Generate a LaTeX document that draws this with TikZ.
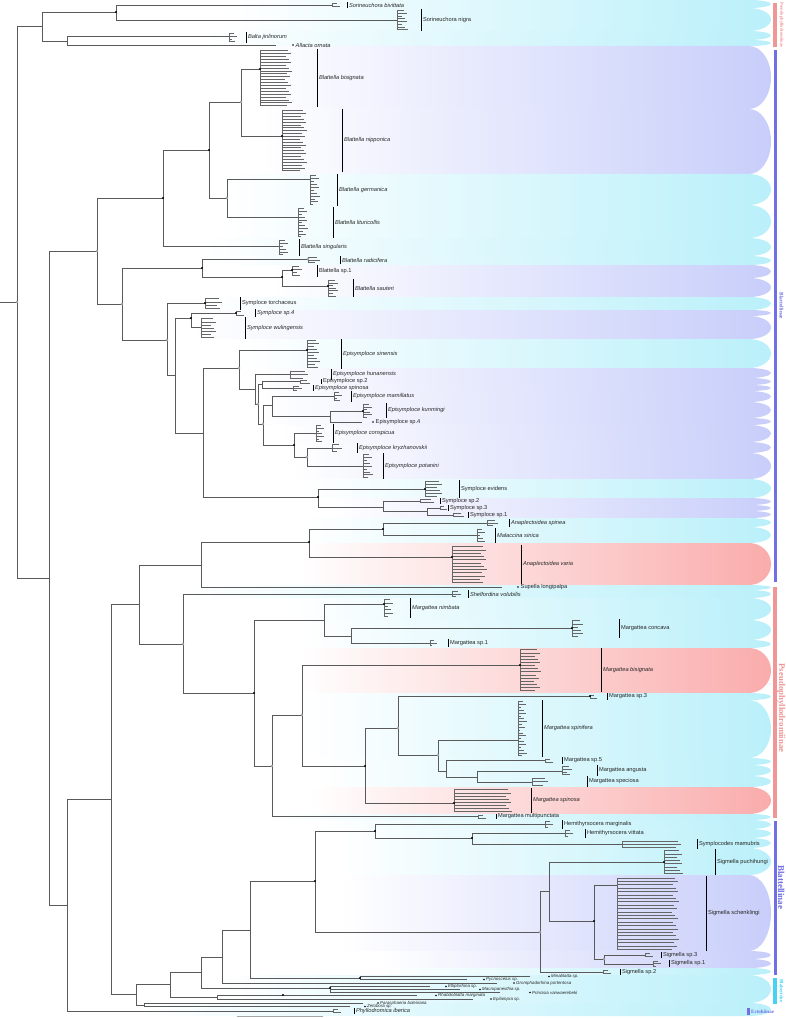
\documentclass[tikz,border=0pt]{standalone}
\usepackage{fontspec}
\setmainfont{Liberation Sans}
\newfontfamily\legfont{Liberation Serif}
\definecolor{bcyan}{RGB}{186,240,250}
\definecolor{blav}{RGB}{200,206,250}
\definecolor{bpink}{RGB}{250,172,172}
\definecolor{lpink}{RGB}{240,150,150}
\definecolor{lblue}{RGB}{112,112,228}
\definecolor{lcyan}{RGB}{70,210,240}
\definecolor{brc}{RGB}{90,90,90}
\tikzset{
  br/.style={draw=brc,line width=0.55pt},
  tipbr/.style={draw=black!60,line width=0.35pt},
  bar/.style={draw=black,line width=0.8pt},
  splab/.style={anchor=west,inner sep=0pt,font=\fontsize{5.7}{6}\selectfont,text=black!85},
  oglab/.style={anchor=west,inner sep=0pt,font=\fontsize{4.4}{5}\selectfont,text=black!85},
  bdot/.style={fill=black},
  odot/.style={fill=white,draw=gray,line width=0.4pt},
  leg/.style={inner sep=0pt,font=\legfont\bfseries\fontsize{4.5}{5}\selectfont},
}
\newcommand\band[4]{%
  \pgfmathsetmacro\bm{(#2+#3)/2}\pgfmathsetmacro\bk{0.5523*(#3-#2)/2}%
  \path[left color=white,right color=#4] (#1,#2) -- (749,#2) .. controls (761.2,#2) and (771,\bm-\bk) .. (771,\bm) .. controls (771,\bm+\bk) and (761.2,#3) .. (749,#3) -- (#1,#3) -- cycle;}
% clade: id, node x, node y, y1, y2, ntips, tip x, bar x, label
\newcommand\clade[9]{%
  \coordinate (#1) at (#2,#3);
  \foreach \k in {1,...,#6}{
    \pgfmathsetmacro\ty{#4+(#5-#4)*(\k-0.5)/#6}
    \pgfmathsetmacro\tx{#7+mod(\k*37,11)*0.7}
    \draw[tipbr] (#1) |- (\tx,\ty);
  }
  \draw[bar] (#8,#4) -- (#8,#5);
  \node[splab] (#1-lab) at ({#8+1.8},{(#4+#5)/2}) {#9};
}
% single tip: id, end x, y, dot x, label
\newcommand\single[5]{%
  \coordinate (#1) at (#2,#3);
  \fill[black] (#4,#3) circle (0.9);
  \node[splab] (#1-lab) at ({#4+2.5},#3) {#5};
}
\newcommand\ogr[5]{%
  \coordinate (#1) at (#2,#3);
  \fill[black] (#4,#3) circle (0.8);
  \node[oglab] (#1-lab) at ({#4+2},#3) {#5};
}
\begin{document}
\begin{tikzpicture}[x=1pt,y=-1pt]
\useasboundingbox (0,0) rectangle (785,1019);
% ---------------- bands
\band{230}{0}{8}{bcyan}
\band{230}{8}{31}{bcyan}
\band{200}{31}{40}{bcyan}
\band{200}{40}{46}{bcyan}
\band{250}{46}{109}{blav}
\band{260}{109}{174}{blav}
\band{225}{174}{205}{bcyan}
\band{225}{205}{238}{bcyan}
\band{200}{238}{256}{bcyan}
\band{210}{256}{265}{bcyan}
\band{270}{265}{278}{blav}
\band{270}{278}{297}{blav}
\band{200}{297}{310}{bcyan}
\band{190}{310}{316}{blav}
\band{190}{316}{339}{blav}
\band{240}{339}{368}{bcyan}
\band{250}{368}{378}{blav}
\band{250}{378}{385}{blav}
\band{250}{385}{391}{blav}
\band{260}{391}{402}{blav}
\band{260}{402}{418}{blav}
\band{260}{418}{425}{blav}
\band{280}{425}{442}{blav}
\band{290}{442}{453}{blav}
\band{290}{453}{479}{blav}
\band{300}{479}{498}{bcyan}
\band{330}{498}{505}{blav}
\band{330}{505}{511}{blav}
\band{330}{511}{518}{blav}
\band{300}{518}{527}{bcyan}
\band{300}{527}{543}{bcyan}
\band{300}{543}{585}{bpink}
\band{200}{585}{590}{bcyan}
\band{183}{590}{598}{bcyan}
\band{290}{598}{620}{bcyan}
\band{300}{620}{640}{bcyan}
\band{300}{640}{648}{bcyan}
\band{300}{648}{693}{bpink}
\band{310}{693}{700}{bcyan}
\band{310}{700}{758}{bcyan}
\band{320}{758}{765}{bcyan}
\band{320}{765}{776}{bcyan}
\band{320}{776}{787}{bcyan}
\band{310}{787}{814}{bpink}
\band{272}{814}{820}{bcyan}
\band{320}{820}{829}{bcyan}
\band{340}{829}{838}{bcyan}
\band{340}{838}{848}{bcyan}
\band{340}{848}{875}{bcyan}
\band{340}{875}{951}{blav}
\band{380}{951}{959}{blav}
\band{380}{959}{968}{blav}
\band{380}{968}{975}{bcyan}
\band{215}{975}{1003}{bcyan}
\band{136}{1003}{1016}{bcyan}
% ---------------- legend
\fill[lpink] (773,3) rectangle (777,47);
\fill[lblue] (774,50) rectangle (777,582);
\fill[lpink] (773,587) rectangle (777,818);
\fill[lblue] (774,821) rectangle (777,975);
\fill[lcyan] (773,978) rectangle (777,1004);
\fill[lblue] (747,1008) rectangle (749.5,1015);
\node[leg,text=lpink,rotate=-90] (L1) at (781.5,25) {Pseudophyllodromiinae};
\node[leg,text=lblue,rotate=-90,font=\legfont\bfseries\fontsize{5.4}{6}\selectfont] (L2) at (781.5,306) {Blattellinae};
\node[leg,text=lpink,rotate=-90,font=\legfont\bfseries\fontsize{8.8}{9}\selectfont] (L3) at (781.2,708) {Pseudophyllodromiinae};
\node[leg,text=lblue,rotate=-90,font=\legfont\bfseries\fontsize{9}{9}\selectfont] (L4) at (781.2,887) {Blattellinae};
\node[leg,text=lcyan,rotate=-90,font=\legfont\bfseries\fontsize{5}{5}\selectfont] (L5) at (781.5,991) {Blaberidae};
\node[leg,text=lblue,anchor=west,font=\legfont\bfseries\fontsize{5}{5}\selectfont] (L6) at (751,1011.5) {Ectobiinae};
% ---------------- backbone coordinates
\coordinate (R0) at (0,302);
\coordinate (Root) at (17,302);
\coordinate (Ntop) at (42,26);
\coordinate (Nsor) at (116,12);
\coordinate (Nbal) at (67,41);
\coordinate (Nlow) at (49,578);
\coordinate (Nbl) at (97,251);
\coordinate (Nb1) at (163,198);
\coordinate (Nb3) at (209,150);
\coordinate (Nb4) at (241,102);
\coordinate (Nb5) at (227,198);
\coordinate (Nb2) at (122,304);
\coordinate (Nb6) at (202,268);
\coordinate (Nb7) at (282,277);
\coordinate (Ns1) at (167,340);
\coordinate (Ns2) at (175,375);
\coordinate (Ns3) at (191,318);
\coordinate (Ns4) at (203,433);
\coordinate (NE) at (239,368);
\coordinate (NE1) at (255,389);
\coordinate (NE2) at (258,404);
\coordinate (NE3) at (262,384);
\coordinate (NE4) at (263,424);
\coordinate (NE5) at (272,405);
\coordinate (NE7) at (330,416);
\coordinate (NE6) at (294,445);
\coordinate (NE8) at (307,457);
\coordinate (Ns5) at (318,497);
\coordinate (Ns6) at (383,507);
\coordinate (Ns7) at (427,511);
\coordinate (Nrest) at (67,905);
\coordinate (Nr1) at (111,799);
\coordinate (Nr2) at (139,604);
\coordinate (Nr4) at (201,565);
\coordinate (Nr6) at (309,542);
\coordinate (Nr7) at (383,529);
\coordinate (Nr5) at (183,644);
\coordinate (Nr8) at (254,693);
\coordinate (Nr9) at (324,620);
\coordinate (Nr11) at (351,636);
\coordinate (Nr10) at (272,766);
\coordinate (Nr12) at (302,715);
\coordinate (Nr13) at (365,766);
\coordinate (Nr14) at (398,728);
\coordinate (Nr15) at (438,755);
\coordinate (Nr16) at (446,771);
\coordinate (Nr17) at (477,777);
\coordinate (Nr3) at (136,994);
\coordinate (Nr18) at (170,984);
\coordinate (Nr19) at (201,972);
\coordinate (Nr20) at (222,957);
\coordinate (Nr22) at (250,930);
\coordinate (Nh) at (315,881);
\coordinate (Nh1) at (375,831);
\coordinate (Nh2) at (472,838);
\coordinate (Nsig) at (540,932);
\coordinate (Nsig1) at (549,891);
\coordinate (Nsig2) at (594,921);
\coordinate (Nsig3) at (604,959);
\coordinate (Nmin) at (360,978);
\coordinate (Nd) at (330,988);
\coordinate (Nr21) at (217,997);
\coordinate (Nrh) at (283,995);
\coordinate (Nz) at (144,1005);
% ---------------- species clades
\clade{sbiv}{332}{5}{2}{8}{2}{334}{347}{\itshape Sorineuchora bivittata}
\clade{snig}{397}{20}{9}{31}{8}{401}{421}{Sorineuchora nigra}
\clade{bjin}{229}{36}{32}{43}{4}{231}{246}{\itshape Balta jinlinorum}
\single{allo}{276}{45}{293}{\itshape Allacta ornata}
\clade{bbis}{260}{69}{49}{107}{20}{285}{317}{\itshape Blattella bisignata}
\clade{bnip}{282}{136}{109}{172}{22}{300}{342}{\itshape Blattella nipponica}
\clade{bger}{310}{179}{174}{206}{11}{313}{337}{\itshape Blattella germanica}
\clade{blit}{298}{217}{207}{238}{11}{301}{333}{\itshape Blattella lituricollis}
\clade{bsin}{279}{246}{239}{256}{6}{282}{299}{\itshape Blattella singularis}
\clade{brad}{308}{259}{256}{264}{3}{314}{340}{\itshape Blattella radicifera}
\clade{bsp1}{292}{270}{265}{277}{4}{296}{317}{Blattella sp.1}
\clade{bsau}{328}{286}{279}{297}{7}{332}{353}{\itshape Blattella sauteri}
\clade{stor}{205}{303}{297}{310}{4}{216}{240}{Symploce torchaceus}
\clade{ssp4}{236}{313}{309}{317}{2}{238}{255}{\itshape Symploce sp.4}
\clade{swul}{201}{327}{317}{339}{7}{210}{245}{\itshape Symploce wulingensis}
\clade{esin}{307}{350}{339}{369}{10}{313}{341}{\itshape Episymploce sinensis}
\clade{ehun}{290}{374}{369}{380}{3}{302}{331}{\itshape Episymploce hunanensis}
\clade{esp2}{300}{381}{379}{384}{2}{304}{321}{Episymploce sp.2}
\clade{espi}{293}{388}{385}{391}{3}{296}{313}{\itshape Episymploce spinosa}
\clade{emam}{334}{396}{391}{402}{4}{336}{351}{\itshape Episymploce mamillatus}
\clade{ekun}{363}{411}{403}{418}{6}{366}{386}{\itshape Episymploce kunmingi}
\single{esp4}{362}{422}{373}{Episymploce sp.4}
\clade{econ}{316}{433}{424}{443}{7}{318}{333}{\itshape Episymploce conspicua}
\clade{ekry}{332}{448}{443}{453}{3}{336}{357}{\itshape Episymploce kryzhanovskii}
\clade{epot}{363}{466}{453}{479}{9}{366}{383}{\itshape Episymploce potanini}
\clade{sevi}{425}{489}{480}{498}{6}{436}{459}{Symploce evidens}
\clade{ssp2}{420}{501}{498}{504}{2}{428}{440}{Symploce sp.2}
\clade{ssp3}{440}{508}{505}{511}{2}{441}{448}{Symploce sp.3}
\clade{ssp1}{453}{515}{512}{518}{2}{458}{468}{Symploce sp.1}
\clade{aspi}{487}{523}{519}{527}{3}{492}{509}{\itshape Anaplectoidea spinea}
\clade{msin}{477}{535}{528}{543}{5}{479}{495}{\itshape Malaccina sinica}
\clade{avar}{452}{557}{545}{584}{12}{480}{521}{\itshape Anaplectoidea varia}
\single{supl}{502}{587}{518}{Supella longipalpa}
\clade{shel}{452}{594}{590}{598}{3}{455}{468}{\itshape Shelfordina volubilis}
\clade{mnim}{384}{604}{598}{618}{6}{387}{410}{\itshape Margattea nimbata}
\clade{mcon}{572}{628}{619}{638}{6}{577}{619}{Margattea concava}
\clade{msp1}{430}{643}{639}{647}{3}{431}{448}{Margattea sp.1}
\clade{mbis}{520}{665}{648}{692}{14}{534}{601}{\itshape Margattea bisignata}
\clade{msp3}{590}{696}{693}{700}{2}{591}{607}{Margattea sp.3}
\clade{mspf}{518}{740}{700}{757}{20}{520}{542}{\itshape Margattea spinifera}
\clade{msp5}{545}{760}{757}{764}{2}{547}{562}{Margattea sp.5}
\clade{mang}{562}{771}{765}{776}{4}{566}{597}{Margattea angusta}
\clade{mspe}{532}{782}{776}{787}{3}{542}{587}{Margattea speciosa}
\clade{mspn}{454}{803}{788}{813}{8}{505}{531}{\itshape Margattea spinosa}
\clade{mmul}{478}{816}{814}{819}{2}{480}{496}{Margattea multipunctata}
\clade{hmar}{545}{824}{820}{829}{3}{547}{562}{Hemithyrsocera marginalis}
\clade{hvit}{565}{833}{829}{838}{3}{567}{585}{Hemithyrsocera vittata}
\clade{smam}{622}{844}{839}{849}{3}{675}{697}{Symplocodes mamubris}
\clade{spuc}{664}{862}{849}{875}{8}{676}{715}{Sigmella puchihungi}
\clade{ssch}{617}{885}{876}{951}{22}{672}{706}{Sigmella schenklingi}
\clade{sis3}{645}{955}{952}{958}{2}{647}{661}{Sigmella sp.3}
\clade{sis1}{653}{964}{960}{967}{3}{655}{669}{Sigmella sp.1}
\clade{sis2}{603}{972}{969}{975}{2}{605}{620}{Sigmella sp.2}
% outgroups
\ogr{omin}{530}{976.5}{549}{\itshape Minablatta sp.}
\ogr{opyc}{467}{979.5}{484}{\itshape Pycnoscelus sp.}
\ogr{ogro}{497}{983}{514}{\itshape Gromphadorhina portentosa}
\ogr{oop1}{430}{986.5}{446}{\itshape Elliptorhina sp.}
\ogr{oop2}{460}{989.5}{480}{\itshape Macropanesthia sp.}
\ogr{oop3}{500}{992.5}{530}{\itshape Princisia vanwaerebeki}
\ogr{orha}{417}{995.5}{436}{\itshape Rhabdoblatta marginata}
\ogr{oepi}{473}{999}{491}{\itshape Epilampra sp.}
\ogr{opar}{363}{1003}{378}{\itshape Parasphaeria boleiriana}
\ogr{ozet}{350}{1006.5}{365}{\itshape Zetobora sp.}
\clade{ophy}{333}{1011}{1008}{1014}{2}{335}{354}{\itshape Phyllodromica iberica}
% ---------------- backbone edges
\draw[br] (R0) -- (Root);
\foreach \p/\c in {Root/Ntop,Root/Nlow,Ntop/Nsor,Ntop/Nbal,Nsor/sbiv,Nsor/snig,Nbal/bjin,Nbal/allo,
  Nlow/Nbl,Nlow/Nrest,Nbl/Nb1,Nbl/Nb2,Nb1/Nb3,Nb1/bsin,Nb3/Nb4,Nb3/Nb5,Nb4/bbis,Nb4/bnip,Nb5/bger,Nb5/blit,
  Nb2/Nb6,Nb2/Ns1,Nb6/brad,Nb6/Nb7,Nb7/bsp1,Nb7/bsau,Ns1/stor,Ns1/Ns2,Ns2/Ns3,Ns2/Ns4,Ns3/ssp4,Ns3/swul,
  Ns4/NE,Ns4/Ns5,NE/esin,NE/NE1,NE1/ehun,NE1/NE2,NE2/NE3,NE2/NE4,NE3/esp2,NE3/espi,NE4/NE5,NE4/NE6,
  NE5/emam,NE5/NE7,NE7/ekun,NE7/esp4,NE6/econ,NE6/NE8,NE8/ekry,NE8/epot,
  Ns5/sevi,Ns5/Ns6,Ns6/ssp2,Ns6/Ns7,Ns7/ssp3,Ns7/ssp1,
  Nrest/Nr1,Nrest/ophy,Nr1/Nr2,Nr1/Nr3,Nr2/Nr4,Nr2/Nr5,Nr4/Nr6,Nr4/supl,Nr6/Nr7,Nr6/avar,Nr7/aspi,Nr7/msin,
  Nr5/shel,Nr5/Nr8,Nr8/Nr9,Nr8/Nr10,Nr9/mnim,Nr9/Nr11,Nr11/mcon,Nr11/msp1,Nr10/Nr12,Nr10/mmul,
  Nr12/mbis,Nr12/Nr13,Nr13/Nr14,Nr13/mspn,Nr14/msp3,Nr14/Nr15,Nr15/mspf,Nr15/Nr16,Nr16/msp5,Nr16/Nr17,
  Nr17/mang,Nr17/mspe,
  Nr3/Nr18,Nr3/Nz,Nr18/Nr19,Nr18/Nr21,Nr19/Nr20,Nr19/Nd,Nr20/Nr22,Nr20/ogro,Nr22/Nh,Nr22/Nmin,
  Nh/Nh1,Nh/Nsig,Nh1/hmar,Nh1/Nh2,Nh2/hvit,Nh2/smam,Nsig/Nsig1,Nsig/sis2,Nsig1/spuc,Nsig1/Nsig2,
  Nsig2/ssch,Nsig2/Nsig3,Nsig3/sis3,Nsig3/sis1,Nmin/omin,Nmin/opyc,Nd/oop1,Nd/oop2,Nd/oop3,
  Nr21/Nrh,Nr21/oepi,Nrh/orha,Nz/opar,Nz/ozet}
  {\draw[br] (\p) |- (\c);}
% ---------------- node markers
\foreach \n in {Nsor,Nb1,Nb3,Nb6,Nb7,Ns3,stor,esin,NE6,Ns5,sevi,Nr6,avar,Nr8,Nr13,mbis,mspn,Nh,Nh1,Nh2,spuc,Nsig2,Nmin,Nd,Nrh,bbis,bnip,ekun,mcon,msp3,ssp4,bsp1,bsau,Nr7,mnim}
  {\fill[bdot] (\n) circle (1.1);}
\foreach \n in {Root,Nbl,Nb4,Nb5,Nb2,Ns1,NE,NE2,NE4,NE8,Nr5,Nr10,Nr12,Nr14,Nr15,Nsig,Nsig3,brad}
  {\draw[odot] (\n) circle (1.1);}
% scale bar
\draw[draw=gray!70,line width=0.6pt] (237,1016.5) -- (323,1016.5);
\end{tikzpicture}
\end{document}
